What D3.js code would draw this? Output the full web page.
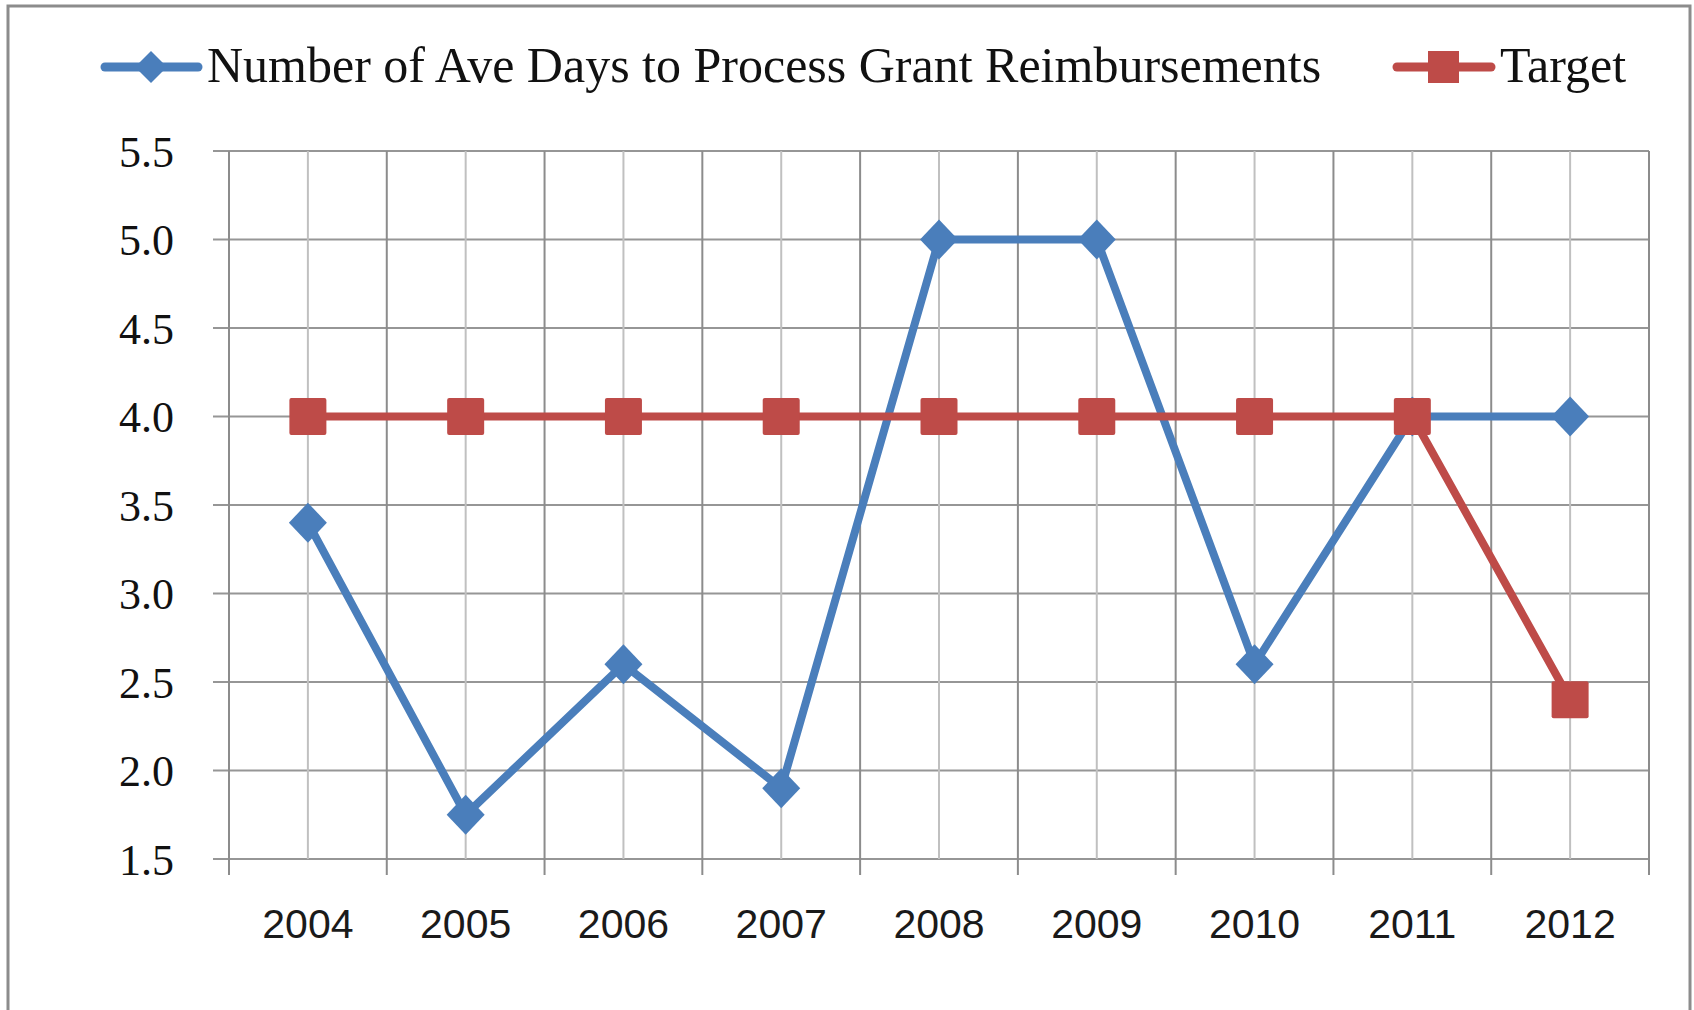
<!DOCTYPE html>
<html>
<head>
<meta charset="utf-8">
<script src="https://cdn.jsdelivr.net/npm/d3@7"></script>
<style>
    body { margin: 0; background: #ffffff; }
</style>
</head>
<body>
<svg id="drawing_region"></svg>
<script>
var years = ["2004", "2005", "2006", "2007", "2008", "2009", "2010", "2011", "2012"];
var ave_days = [3.4, 1.75, 2.6, 1.9, 5.0, 5.0, 2.6, 4.0, 4.0];
var target = [4.0, 4.0, 4.0, 4.0, 4.0, 4.0, 4.0, 4.0, 2.4];
var y_ticks = [1.5, 2.0, 2.5, 3.0, 3.5, 4.0, 4.5, 5.0, 5.5];
var series_names = ["Number of Ave Days to Process Grant Reimbursements", "Target"];

class LineChart {

    constructor( config ) {
        this.config = {
            parent: config.parent,
            width: config.width || 1694,
            height: config.height || 1010,
            margin: config.margin || {top:151, right:45, bottom:151, left:229}
        }
        this.init();
    }

    init() {
        let self = this;

        self.svg = d3.select( self.config.parent )
            .attr('width', self.config.width)
            .attr('height', self.config.height);

        // outer frame
        self.svg.append('rect')
            .attr('x', 8).attr('y', 6)
            .attr('width', 1682).attr('height', 1020)
            .attr('fill', '#ffffff')
            .attr('stroke', '#8c8c8c')
            .attr('stroke-width', 3);

        self.chart = self.svg.append('g')
            .attr('transform', `translate(${self.config.margin.left}, ${self.config.margin.top})`);

        self.inner_width = self.config.width - self.config.margin.left - self.config.margin.right;
        self.inner_height = self.config.height - self.config.margin.top - self.config.margin.bottom;
    }

    update() {
        let self = this;

        self.xscale = d3.scaleBand()
            .domain(years)
            .range([0, self.inner_width]);

        self.yscale = d3.scaleLinear()
            .domain([1.5, 5.5])
            .range([self.inner_height, 0]);

        self.xaxis = d3.axisBottom( self.xscale )
            .tickSize(0)
            .tickPadding(50);

        self.yaxis = d3.axisLeft( self.yscale )
            .tickValues(y_ticks)
            .tickFormat(d3.format(".1f"))
            .tickSize(0)
            .tickPadding(55);

        self.render();
    }

    render() {
        let self = this;
        let bw = self.xscale.bandwidth();
        let grid = self.chart.append('g');

        // horizontal grid
        grid.selectAll('.hgrid').data(y_ticks).join('line')
            .attr('x1', -16).attr('x2', self.inner_width)
            .attr('y1', d => self.yscale(d)).attr('y2', d => self.yscale(d))
            .attr('stroke', '#969696').attr('stroke-width', 2);

        // minor vertical grid at category centres
        grid.selectAll('.vminor').data(years).join('line')
            .attr('x1', d => self.xscale(d) + bw / 2).attr('x2', d => self.xscale(d) + bw / 2)
            .attr('y1', 0).attr('y2', self.inner_height)
            .attr('stroke', '#c0c0c0').attr('stroke-width', 2);

        // category boundaries with ticks below
        let bounds = years.map(d => self.xscale(d)).concat([self.inner_width]);
        grid.selectAll('.vmajor').data(bounds).join('line')
            .attr('x1', d => d).attr('x2', d => d)
            .attr('y1', 0).attr('y2', self.inner_height + 16)
            .attr('stroke', '#8c8c8c').attr('stroke-width', 2);

        self.xaxis_group = self.chart.append('g')
            .attr('transform', `translate(0, ${self.inner_height})`)
            .call( self.xaxis );
        self.xaxis_group.select('.domain').remove();
        self.xaxis_group.selectAll('text')
            .attr('font-family', '"Liberation Sans", Arial, sans-serif')
            .attr('font-size', 41)
            .attr('fill', '#1a1a1a');

        self.yaxis_group = self.chart.append('g')
            .call( self.yaxis );
        self.yaxis_group.select('.domain').remove();
        self.yaxis_group.selectAll('text')
            .attr('dy', 15)
            .attr('font-family', '"Liberation Serif", "Times New Roman", serif')
            .attr('font-size', 44)
            .attr('fill', '#111111');

        let line = d3.line()
            .x((d, i) => self.xscale(years[i]) + bw / 2)
            .y(d => self.yscale(d));

        // blue series
        self.chart.append('path')
            .datum(ave_days)
            .attr('d', line)
            .attr('fill', 'none')
            .attr('stroke', '#4a7ebb')
            .attr('stroke-width', 8)
            .attr('stroke-linejoin', 'round');

        self.chart.selectAll('.diamond').data(ave_days).join('path')
            .attr('transform', (d, i) => `translate(${self.xscale(years[i]) + bw / 2}, ${self.yscale(d)})`)
            .attr('d', 'M0,-20 L19,0 L0,20 L-19,0 Z')
            .attr('fill', '#4a7ebb');

        // red series
        self.chart.append('path')
            .datum(target)
            .attr('d', line)
            .attr('fill', 'none')
            .attr('stroke', '#be4b48')
            .attr('stroke-width', 8)
            .attr('stroke-linejoin', 'round');

        self.chart.selectAll('.square').data(target).join('rect')
            .attr('x', (d, i) => self.xscale(years[i]) + bw / 2 - 18.5)
            .attr('y', d => self.yscale(d) - 18.5)
            .attr('width', 37).attr('height', 37)
            .attr('rx', 2)
            .attr('fill', '#be4b48');

        // legend
        let legend = self.svg.append('g');

        legend.append('line')
            .attr('x1', 105).attr('x2', 198).attr('y1', 67).attr('y2', 67)
            .attr('stroke', '#4a7ebb').attr('stroke-width', 9).attr('stroke-linecap', 'round');
        legend.append('path')
            .attr('transform', 'translate(151, 67)')
            .attr('d', 'M0,-16 L16,0 L0,16 L-16,0 Z')
            .attr('fill', '#4a7ebb');
        legend.append('text')
            .attr('x', 207).attr('y', 82)
            .attr('font-family', '"Liberation Serif", "Times New Roman", serif')
            .attr('font-size', 50)
            .attr('fill', '#111111')
            .text(series_names[0]);

        legend.append('line')
            .attr('x1', 1397).attr('x2', 1491).attr('y1', 67).attr('y2', 67)
            .attr('stroke', '#be4b48').attr('stroke-width', 9).attr('stroke-linecap', 'round');
        legend.append('rect')
            .attr('x', 1428).attr('y', 51).attr('width', 31).attr('height', 32)
            .attr('fill', '#be4b48');
        legend.append('text')
            .attr('x', 1500).attr('y', 82)
            .attr('font-family', '"Liberation Serif", "Times New Roman", serif')
            .attr('font-size', 50)
            .attr('fill', '#111111')
            .text(series_names[1]);
    }
}

var line_chart = new LineChart({
    parent: '#drawing_region',
    width: 1694,
    height: 1010,
    margin: {top:151, right:45, bottom:151, left:229}
});
line_chart.update();
</script>
</body>
</html>
